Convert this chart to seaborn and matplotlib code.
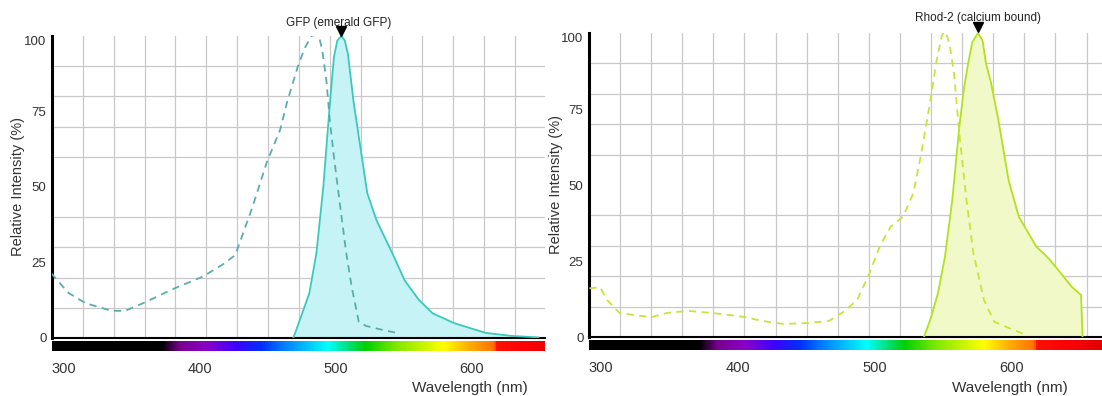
import numpy as np
import pandas as pd
import matplotlib
matplotlib.use("Agg")
import matplotlib.pyplot as plt
import seaborn as sns
from matplotlib.ticker import MultipleLocator
from matplotlib.colors import LinearSegmentedColormap, Normalize

# ---------------- data ----------------
gfp_ex_nm = [290.5, 303.4, 316, 335, 345, 358, 381.6, 402, 418, 426, 438.7, 449, 459, 464, 472,
             477, 482, 485, 487.5, 490, 493, 495.5, 498.5, 502.5, 507.6, 511.5, 516.8, 522, 535, 546.7]
gfp_ex_val = [21.5, 14.9, 11.5, 9, 9, 11.5, 16.5, 20.3, 24.7, 27.5, 43.5, 58, 69, 78, 90,
              96, 100, 100.5, 100, 95, 85, 72, 60, 45.7, 28, 17, 5.4, 4, 2.6, 1.5]
gfp_em_nm = [468.6, 472.6, 480.4, 485.6, 490.7, 494, 495.6, 498.5, 501, 504, 506.5, 508.8, 513, 516,
             523, 529.8, 541.5, 550.6, 561, 571, 587, 610, 628.7, 649]
gfp_em_val = [0, 4.9, 14.8, 28, 50, 69, 78, 93, 98.5, 100, 98.5, 94, 78, 69,
              48, 39, 28, 19, 12.6, 8.2, 4.9, 1.7, 0.7, 0.2]

rhod_ex_nm = [291.5, 299.3, 304.4, 313.4, 325, 336.5, 348, 363.5, 381.5, 404.7, 417.5, 433, 451, 466.4,
              476.8, 487, 496, 503.6, 511.4, 520.4, 528, 533.3, 539.7, 545, 548.7, 550.5, 552.3, 554.5,
              557.7, 561.5, 566.8, 571.8, 579.5, 587, 597.5, 610]
rhod_ex_val = [16, 16.4, 12.2, 7.9, 7.2, 6.5, 7.9, 8.6, 7.9, 6.6, 5.3, 4.3, 4.6, 5.3,
               8.2, 12.2, 21, 30, 36.3, 39.6, 47.3, 59.3, 75.8, 91, 99, 100.5, 99.5, 96,
               86.8, 67, 45, 27.6, 12.2, 5, 3, 0.7]
rhod_em_nm = [535.8, 541, 546, 551, 556.4, 561.5, 565, 568, 571, 575.2, 578.5, 581, 584.5, 589.8,
              597.5, 605, 618, 625.8, 632, 643.8, 650.4, 651.5]
rhod_em_val = [0, 6.6, 14.5, 26.3, 45, 69, 82, 90, 97, 100, 97.5, 90, 84, 72,
               51.6, 39.5, 29.6, 26.3, 23, 16.4, 13.8, 0]

x_ticks = [300, 400, 500, 600]
y_ticks = [0, 25, 50, 75, 100]
titles = ["GFP (emerald GFP)", "Rhod-2 (calcium bound)"]
x_label = "Wavelength (nm)"
y_label = "Relative Intensity (%)"

# ---------------- style ----------------
sns.set_style("white")
plt.rcParams['font.family'] = ['Liberation Sans', 'DejaVu Sans']
TXT = '#333333'

W, H = 1102, 396
fig = plt.figure(figsize=(W / 100, H / 100), dpi=100)


def rect(l, t, r, b):
    return [l / W, 1 - b / H, (r - l) / W, (b - t) / H]


spec_nodes = [(291, '#000000'), (372, '#000000'), (376, '#2a0030'), (385, '#7a0090'), (405, '#8a00c8'),
              (425, '#4000ff'), (445, '#0030ff'), (462, '#0080ff'), (494, '#00ffff'), (510, '#00e070'),
              (522, '#00d000'), (545, '#80e800'), (580, '#ffff00'), (598, '#ffb000'), (617, '#ff7000'),
              (619, '#ff1000'), (640, '#ff0000'), (666, '#e00000')]
lo, hi = spec_nodes[0][0], spec_nodes[-1][0]
spec_cmap = LinearSegmentedColormap.from_list(
    'spec', [((n - lo) / (hi - lo), c) for n, c in spec_nodes])

panels = [
    dict(ex=(gfp_ex_nm, gfp_ex_val), em=(gfp_em_nm, gfp_em_val), title=titles[0],
         main=(52, 36, 545, 338), bar=(52, 341, 545, 351), xlim=(291.2, 653.7),
         line='#3cc8bc', fill='#c6f3f6', dash='#5aaeaa', title_xy=(339, 23), tri_y=101.7,
         ylab_x=-0.055, xlab_xy=(470, 388)),
    dict(ex=(rhod_ex_nm, rhod_ex_val), em=(rhod_em_nm, rhod_em_val), title=titles[1],
         main=(589, 33, 1102, 337), bar=(589, 340, 1102, 350), xlim=(291.2, 665.7),
         line='#b4e01e', fill='#f1f9c8', dash='#cce23a', title_xy=(978, 18), tri_y=102,
         ylab_x=-0.051, xlab_xy=(1010, 388)),
]

for p in panels:
    ax = fig.add_axes(rect(*p['main']))
    ex = pd.DataFrame({'nm': p['ex'][0], 'val': p['ex'][1]})
    em = pd.DataFrame({'nm': p['em'][0], 'val': p['em'][1]})

    ax.fill_between(em['nm'], em['val'], 0, color=p['fill'], lw=0, zorder=1)
    sns.lineplot(data=em, x='nm', y='val', ax=ax, color=p['line'], linewidth=1.3,
                 sort=False, estimator=None, zorder=3)
    sns.lineplot(data=ex, x='nm', y='val', ax=ax, color=p['dash'], linewidth=1.3,
                 linestyle=(0, (4, 3)), sort=False, estimator=None, zorder=3)

    # peak marker of emission
    i = int(np.argmax(em['val']))
    ax.plot([em['nm'][i]], [p['tri_y']], marker='v', color='black', ms=7, clip_on=False, zorder=5)

    ax.set_xlim(*p['xlim'])
    ax.set_ylim(0, 100)
    ax.set_xticks(x_ticks)
    ax.set_yticks(y_ticks)
    ax.xaxis.set_minor_locator(MultipleLocator(22.7, offset=18.8))
    ax.yaxis.set_minor_locator(MultipleLocator(10))
    ax.grid(which='major', visible=False)
    ax.grid(which='minor', color='#c8c8c8', lw=0.9)
    ax.set_axisbelow(True)
    ax.tick_params(which='both', length=0)
    ax.tick_params(axis='x', labelbottom=False)
    ax.tick_params(axis='y', labelsize=9.5, labelcolor=TXT, pad=4)
    for lab in ax.get_yticklabels():
        if lab.get_text() == '100':
            lab.set_va('top')
    ax.set_xlabel('')
    ax.set_ylabel(y_label, fontsize=10.5, color=TXT)
    ax.yaxis.set_label_coords(p['ylab_x'], 0.5)
    for s in ['top', 'right']:
        ax.spines[s].set_visible(False)
    ax.spines['left'].set_color('black')
    ax.spines['left'].set_linewidth(2.2)
    ax.spines['bottom'].set_color('black')
    ax.spines['bottom'].set_linewidth(1.5)

    # spectrum bar
    bx = fig.add_axes(rect(*p['bar']))
    grad = np.linspace(p['xlim'][0], p['xlim'][1], 800)[None, :]
    bx.imshow(grad, cmap=spec_cmap, norm=Normalize(lo, hi), aspect='auto',
              extent=[p['xlim'][0], p['xlim'][1], 0, 1])
    bx.set_xlim(*p['xlim'])
    bx.set_yticks([])
    bx.set_xticks(x_ticks)
    bx.tick_params(axis='x', length=0, labelsize=10.5, labelcolor=TXT, pad=8)
    for s in bx.spines.values():
        s.set_visible(False)

    fig.text(p['title_xy'][0] / W, 1 - p['title_xy'][1] / H, p['title'], ha='center', va='center',
             fontsize=8.5, color='#222222')
    fig.text(p['xlab_xy'][0] / W, 1 - p['xlab_xy'][1] / H, x_label, ha='center', va='center',
             fontsize=11, color=TXT)

fig.savefig('out.png', dpi=100)
